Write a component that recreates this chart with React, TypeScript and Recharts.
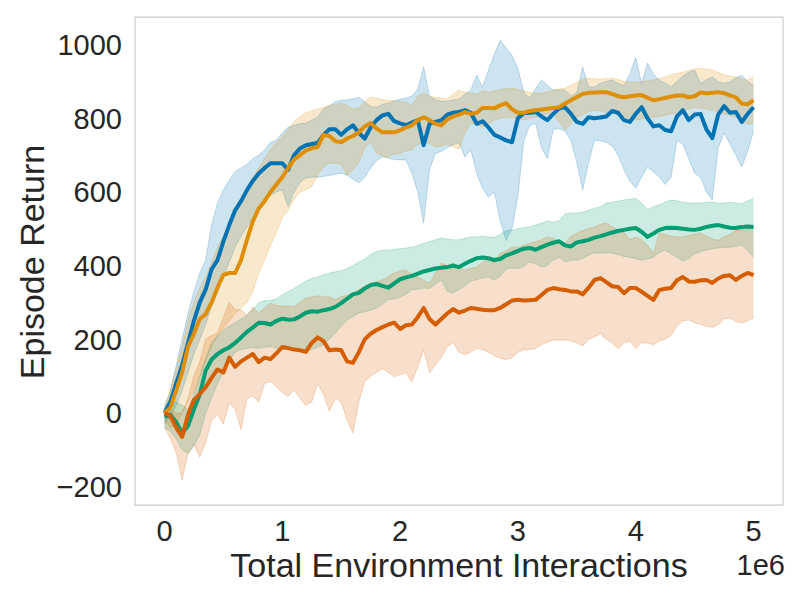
import React from 'react';
import { ComposedChart, Area, Line, XAxis, YAxis, ReferenceArea, Label } from 'recharts';

// Mean curves and shaded bands (lower / upper) for four runs, sampled every 50k interactions
const blueMean = [
  0, 30, 80, 130, 190, 250, 300, 335, 390, 415,
  465, 510, 550, 575, 605, 630, 650, 665, 678, 678,
  678, 660, 700, 718, 727, 730, 733, 755, 770, 770,
  755, 770, 781, 760, 745, 775, 795, 808, 812, 792,
  786, 781, 788, 795, 727, 785, 790, 795, 810, 815,
  817, 822, 815, 785, 792, 775, 755, 748, 740, 735,
  800, 814, 815, 817, 805, 795, 812, 827, 830, 812,
  790, 785, 803, 800, 802, 805, 820, 815, 795, 790,
  812, 830, 800, 778, 781, 768, 765, 805, 822, 795,
  810, 812, 770, 746, 810, 833, 815, 817, 790, 812,
  830,
];
const blueLow = [
  -30, -10, 20, 60, 110, 160, 200, 240, 290, 330,
  370, 410, 450, 480, 505, 530, 555, 575, 590, 600,
  605, 560, 600, 625, 638, 640, 640, 642, 645, 648,
  651, 645, 635, 624, 640, 665, 685, 695, 692, 688,
  687, 687, 650, 600, 516, 660, 705, 710, 720, 728,
  733, 695, 715, 650, 610, 586, 600, 520, 469, 500,
  590, 740, 780, 787, 720, 690, 770, 772, 765, 740,
  680, 605, 680, 741, 738, 735, 725, 700, 660, 630,
  610, 640, 668, 655, 640, 620, 640, 740, 730, 690,
  651, 640, 600, 578, 720, 760, 730, 700, 668, 710,
  765,
];
const blueHigh = [
  15, 60, 130, 200, 270, 330, 380, 415, 510, 570,
  605, 632, 655, 665, 675, 690, 700, 714, 735, 741,
  760, 776, 781, 785, 787, 795, 803, 825, 835, 845,
  849, 850, 853, 857, 845, 832, 830, 838, 841, 848,
  852, 855, 860, 880, 939, 860, 850, 846, 846, 850,
  852, 865, 877, 917, 885, 931, 975, 1012, 990, 971,
  935, 870, 855, 880, 904, 890, 877, 877, 877, 860,
  870, 939, 885, 885, 895, 900, 904, 895, 888, 920,
  966, 895, 950, 920, 904, 895, 885, 900, 915, 925,
  931, 895, 905, 912, 900, 895, 898, 910, 917, 900,
  890,
];

const orangeMean = [
  0, 15, 62, 110, 180, 215, 255, 268, 300, 340,
  375, 380, 380, 415, 470, 520, 555, 575, 600, 620,
  640, 665, 688, 700, 712, 719, 722, 755, 752, 738,
  735, 745, 752, 762, 778, 787, 772, 762, 762, 762,
  768, 775, 781, 795, 803, 795, 785, 781, 797, 805,
  810, 817, 812, 815, 828, 828, 827, 835, 841, 825,
  815, 815, 820, 822, 824, 826, 828, 830, 840, 849,
  858, 866, 869, 870, 871, 871, 866, 860, 857, 860,
  862, 863, 856, 849, 852, 855, 859, 862, 862, 857,
  860, 870, 868, 869, 871, 868, 862, 857, 840, 838,
  849,
];
const orangeLow = [
  -20, -40, -30, 0, 30, 60, 100, 140, 180, 210,
  230, 250, 270, 285, 300, 330, 380, 415, 455, 490,
  530, 550, 580, 600, 605, 615, 645, 668, 678, 678,
  675, 645, 660, 680, 720, 735, 705, 698, 695, 703,
  705, 712, 714, 730, 733, 732, 722, 725, 730, 722,
  716, 760, 787, 782, 776, 785, 795, 800, 802, 803,
  800, 795, 800, 803, 808, 812, 812, 790, 768, 785,
  803, 810, 818, 822, 820, 816, 814, 810, 805, 800,
  795, 798, 802, 803, 805, 808, 812, 814, 820, 825,
  830, 828, 825, 822, 818, 812, 808, 803, 795, 783,
  787,
];
const orangeHigh = [
  20, 60, 120, 180, 250, 300, 340, 370, 410, 450,
  480, 510, 540, 570, 610, 640, 665, 690, 715, 735,
  749, 770, 792, 805, 815, 820, 825, 830, 835, 838,
  841, 835, 825, 828, 845, 857, 855, 850, 849, 847,
  845, 844, 835, 860, 868, 860, 857, 855, 852, 865,
  877, 870, 868, 865, 875, 870, 874, 878, 880, 882,
  878, 874, 870, 868, 868, 872, 876, 880, 882, 890,
  898, 905, 909, 908, 906, 908, 909, 905, 900, 898,
  898, 900, 902, 904, 908, 912, 918, 922, 925, 930,
  934, 936, 934, 931, 925, 918, 914, 912, 906, 904,
  912,
];

const greenMean = [
  -10, -5, -25, -55, -35, 10, 50, 115, 145, 160,
  170, 178, 190, 205, 220, 232, 245, 244, 240, 250,
  256, 253, 254, 262, 272, 276, 275, 279, 282, 288,
  298, 310, 322, 326, 338, 347, 350, 345, 340, 352,
  363, 368, 372, 378, 384, 388, 392, 394, 396, 400,
  396, 405, 413, 420, 422, 420, 415, 418, 428, 433,
  440, 446, 448, 443, 450, 457, 462, 466, 455, 452,
  463, 466, 470, 476, 480, 485, 490, 494, 497, 500,
  502, 492, 478, 487, 497, 502, 503, 502, 500, 498,
  497, 500, 505, 508, 510, 506, 503, 502, 505, 506,
  505,
];
const greenLow = [
  -40, -50, -70, -100, -110, -90, -60, 0, 40, 80,
  110, 140, 165, 172, 175, 178, 175, 178, 180, 176,
  172, 174, 176, 172, 171, 172, 178, 185, 200, 217,
  235, 252, 262, 271, 275, 279, 285, 295, 307, 310,
  315, 322, 334, 336, 339, 338, 350, 361, 330, 325,
  335, 345, 358, 362, 367, 369, 360, 372, 390, 394,
  392, 398, 410, 405, 396, 400, 415, 423, 410, 415,
  415, 420, 428, 434, 434, 434, 434, 430, 425, 423,
  418, 415, 418, 423, 435, 442, 432, 423, 412, 420,
  432, 438, 442, 446, 448, 450, 450, 452, 456, 440,
  423,
];
const greenHigh = [
  10, 30, 30, 20, 10, 50, 100, 150, 190, 210,
  225, 235, 245, 255, 265, 280, 300, 305, 305, 310,
  320, 330, 338, 348, 358, 365, 369, 375, 380, 383,
  386, 392, 400, 410, 418, 430, 438, 442, 442, 444,
  446, 448, 450, 455, 460, 465, 470, 475, 472, 470,
  470, 474, 478, 478, 480, 478, 476, 485, 495, 497,
  500, 503, 505, 510, 515, 522, 518, 522, 540, 543,
  543, 545, 550, 556, 560, 570, 572, 575, 578, 580,
  583, 570, 551, 560, 565, 572, 578, 576, 572, 570,
  570, 570, 572, 573, 570, 570, 572, 570, 568, 575,
  583,
];

const redMean = [
  0, -8, -40, -65, -5, 35, 52, 70, 95, 118,
  110, 150, 125, 140, 150, 160, 138, 150, 146, 162,
  179, 176, 172, 170, 166, 190, 205, 195, 170, 172,
  170, 140, 136, 165, 200, 215, 225, 233, 240, 245,
  228, 238, 240, 260, 285, 255, 240, 255, 270, 282,
  272, 278, 285, 283, 280, 279, 279, 285, 295, 305,
  307, 305, 306, 307, 320, 334, 339, 336, 334, 330,
  330, 322, 340, 361, 366, 355, 344, 342, 325, 339,
  339, 329, 318, 307, 334, 337, 339, 360, 369, 357,
  356, 360, 361, 353, 365, 372, 374, 361, 372, 380,
  374,
];
const redLow = [
  -38, -70, -109, -182, -110, -85, -120, -80, -20, -5,
  -30, 27, 10, -45, 40, 45, 30, 80, 85, 71,
  55, 45, 62, 40, 20, 30, 80, 50, 5, 40,
  30, -20, -55, 30, 85, 100, 110, 120, 110, 98,
  104, 109, 84, 125, 171, 110, 130, 150, 180, 190,
  165, 158, 165, 175, 172, 165, 155, 148, 145, 150,
  165, 171, 172, 175, 185, 192, 198, 198, 198, 196,
  190, 182, 200, 206, 215, 200, 190, 175, 190, 195,
  175, 190, 190, 185, 195, 200, 210, 235, 250, 252,
  245, 240, 235, 232, 240, 255, 258, 248, 244, 250,
  258,
];
const redHigh = [
  10, 10, 0, 0, 40, 100, 140, 200, 210, 217,
  260, 300, 280, 280, 265, 288, 271, 285, 298, 292,
  290, 290, 288, 300, 312, 315, 318, 315, 315, 308,
  315, 320, 326, 335, 345, 353, 356, 361, 370, 380,
  385, 388, 375, 369, 360, 353, 380, 407, 400, 407,
  396, 388, 392, 396, 410, 420, 407, 434, 440, 450,
  450, 455, 461, 465, 470, 478, 475, 465, 461, 480,
  488, 495, 500, 505, 512, 516, 505, 497, 490, 470,
  478, 470, 455, 434, 488, 485, 480, 478, 478, 482,
  485, 488, 480, 472, 469, 478, 485, 495, 497, 500,
  502,
];

const interactions = blueMean.map((_, i) => i * 50000);
const xTicks = [0, 1000000, 2000000, 3000000, 4000000, 5000000];
const yTicks = [-200, 0, 200, 400, 600, 800, 1000];

const COLORS = {
  blue: '#0173b2',
  orange: '#de8f05',
  green: '#029e73',
  red: '#d55e00',
};

const data = interactions.map((x, i) => ({
  x,
  blue: blueMean[i],
  blueBand: [blueLow[i], blueHigh[i]],
  orange: orangeMean[i],
  orangeBand: [orangeLow[i], orangeHigh[i]],
  green: greenMean[i],
  greenBand: [greenLow[i], greenHigh[i]],
  red: redMean[i],
  redBand: [redLow[i], redHigh[i]],
}));

const FONT = '"Liberation Sans", Arial, "DejaVu Sans", sans-serif';
const TEXT = '#262626';

const fmtY = (v: number) => (v < 0 ? '\u2212' + Math.abs(v) : String(v));
const fmtX = (v: number) => String(Math.round(v / 1000000));

const series = ['blue', 'orange', 'green', 'red'] as const;

export default function App() {
  return (
    <div style={{ position: 'absolute', left: 0, top: 0, width: 800, height: 600, background: '#fff' }}>
      <ComposedChart
        width={800}
        height={600}
        data={data}
        margin={{ top: 17, right: 17, bottom: 0, left: 0 }}
      >
        <XAxis
          dataKey="x"
          type="number"
          domain={[-250000, 5250000]}
          ticks={xTicks}
          tickFormatter={fmtX}
          axisLine={false}
          tickLine={false}
          tickSize={0}
          tickMargin={15}
          height={95}
          interval={0}
          allowDataOverflow
          tick={{ fill: TEXT, fontSize: 29, fontFamily: FONT }}
        >
          <Label
            content={() => (
              <text x={459} y={577} textAnchor="middle" fill={TEXT} fontSize={34} fontFamily={FONT}>
                Total Environment Interactions
              </text>
            )}
          />
          <Label
            content={() => (
              <text x={785} y={575} textAnchor="end" fill={TEXT} fontSize={29} fontFamily={FONT}>
                1e6
              </text>
            )}
          />
        </XAxis>
        <YAxis
          type="number"
          domain={[-250, 1075]}
          ticks={yTicks}
          tickFormatter={fmtY}
          axisLine={false}
          tickLine={false}
          tickSize={0}
          tickMargin={13}
          width={135}
          interval={0}
          allowDataOverflow
          tick={{ fill: TEXT, fontSize: 29, fontFamily: FONT }}
        >
          <Label
            content={() => (
              <text
                x={44}
                y={262}
                transform="rotate(-90 44 262)"
                textAnchor="middle"
                fill={TEXT}
                fontSize={34}
                fontFamily={FONT}
              >
                Episode Return
              </text>
            )}
          />
        </YAxis>
        {series.map((s) => (
          <Area
            key={s + 'Band'}
            type="linear"
            dataKey={s + 'Band'}
            stroke={COLORS[s]}
            strokeOpacity={0.22}
            strokeWidth={1}
            fill={COLORS[s]}
            fillOpacity={0.2}
            dot={false}
            activeDot={false}
            isAnimationActive={false}
          />
        ))}
        {series.map((s) => (
          <Line
            key={s}
            type="linear"
            dataKey={s}
            stroke={COLORS[s]}
            strokeWidth={4}
            strokeLinejoin="round"
            dot={false}
            activeDot={false}
            isAnimationActive={false}
          />
        ))}
        <ReferenceArea
          x1={-250000}
          x2={5250000}
          y1={-250}
          y2={1075}
          fill="none"
          fillOpacity={0}
          stroke="#cccccc"
          strokeWidth={1.25}
          ifOverflow="visible"
        />
      </ComposedChart>
    </div>
  );
}
